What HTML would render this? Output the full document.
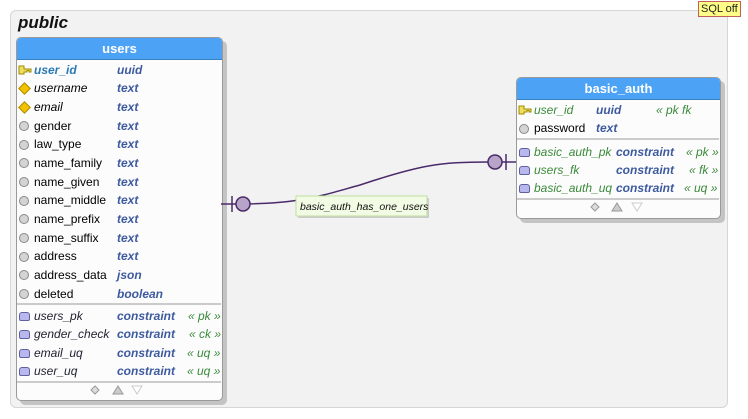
<!DOCTYPE html>
<html><head><meta charset="utf-8"><style>
body{margin:0;width:748px;height:419px;background:#fff;font-family:"Liberation Sans","DejaVu Sans",sans-serif;position:relative;overflow:hidden}
.pub{position:absolute;left:10px;top:10px;width:716px;height:396px;background:#f2f2f2;border:1px solid #d6d6d6;border-radius:6px}
.ptitle{position:absolute;left:18px;top:13px;font-size:17px;font-weight:bold;font-style:italic;color:#111}
.sql{position:absolute;left:698px;top:1px;background:#ffff88;border:1px solid #c0605a;font-size:11px;padding:1px 2px;color:#222}
.tbl{position:absolute;background:#fcfcfc;border:1px solid #9a9a9a;border-radius:5px;box-shadow:4px 4px 0 #c4c4c4}
.hdr{background:#4ca3f6;color:#fff;font-weight:bold;font-size:13px;text-align:center;height:21px;line-height:21px;border-radius:4px 4px 0 0;border-bottom:1px solid #3a80c0}
.r{position:absolute;font-size:12px;white-space:nowrap;line-height:16px}
.i{font-style:italic}.t{font-style:italic;font-weight:bold;color:#3d5a9e}.g{font-style:italic;color:#3a8a3a}.b{color:#2a7ab5}
.ic{position:absolute;width:9px;height:9px}
.circ{border-radius:50%;background:#d4d4d4;border:1px solid #888;width:8px;height:8px}
.dia{background:#f2c200;transform:rotate(45deg);width:7px;height:7px;border:1px solid #b08a00}
.con{width:9px;height:7px;background:#b8b8ee;border:1px solid #6060a0;border-radius:3px 3px 2px 2px}
</style></head><body>
<div class="pub"></div>
<div class="ptitle">public</div>
<div class="sql">SQL off</div>

<div class="tbl" style="left:16px;top:37px;width:205px;height:362px">
<div class="hdr">users</div>
</div>
<div class="tbl" style="left:516px;top:77px;width:203px;height:140px">
<div class="hdr">basic_auth</div>
</div>

<svg width="748" height="419" style="position:absolute;left:0;top:0">
<g fill="none" stroke="#9a9a9a"><line x1="17" y1="304" x2="221" y2="304"/><line x1="17" y1="382" x2="221" y2="382"/>
<line x1="517" y1="139" x2="719" y2="139"/><line x1="517" y1="199" x2="719" y2="199"/></g>
<g>
<polygon points="95,386 99,390 95,394 91,390" fill="#ddd" stroke="#999"/><polygon points="118,386 123,394 113,394" fill="#ccc" stroke="#999"/><polygon points="132,386 142,386 137,394" fill="#fff" stroke="#ccc"/>
<polygon points="595,203 599,207 595,211 591,207" fill="#ddd" stroke="#999"/><polygon points="617,203 622,211 612,211" fill="#ccc" stroke="#999"/><polygon points="632,203 642,203 637,211" fill="#fff" stroke="#ccc"/>
</g>
<path d="M221,204 L236,204 C300,204 320,196 360,185 C420,165 440,162 488,162 L516,162" fill="none" stroke="#4a2a6a" stroke-width="1.5"/>
<line x1="232" y1="196" x2="232" y2="212" stroke="#4a2a6a" stroke-width="1.5"/>
<circle cx="243" cy="204" r="7" fill="#b8a4c8" stroke="#4a2a6a" stroke-width="1.5"/>
<line x1="506" y1="154" x2="506" y2="170" stroke="#4a2a6a" stroke-width="1.5"/>
<circle cx="495" cy="162" r="7" fill="#b8a4c8" stroke="#4a2a6a" stroke-width="1.5"/>
<rect x="298" y="198" width="131" height="20" fill="#ccc"/>
<rect x="296" y="196" width="131" height="20" fill="#f2fbe4" stroke="#bfe0a0"/>
<text x="300" y="210" font-family="Liberation Sans,sans-serif" font-size="10.5" font-style="italic" fill="#111">basic_auth_has_one_users</text>
<g fill="#f0e060" stroke="#a08a00"><path d="M19,66 h5 v3 h7 v3 h-2 v-1.5 h-2 v1.5 h-3 v2 h-5 z"/><path d="M519,106 h5 v3 h7 v3 h-2 v-1.5 h-2 v1.5 h-3 v2 h-5 z"/></g>
</svg>

<div class="r i b" style="left:34px;top:62px;font-weight:600">user_id</div><div class="r t" style="left:117px;top:62px">uuid</div>
<div class="ic dia" style="left:20px;top:84px"></div><div class="r i" style="left:34px;top:80px">username</div><div class="r t" style="left:117px;top:80px">text</div>
<div class="ic dia" style="left:20px;top:103px"></div><div class="r i" style="left:34px;top:99px">email</div><div class="r t" style="left:117px;top:99px">text</div>
<div class="ic circ" style="left:19px;top:121px"></div><div class="r" style="left:34px;top:118px">gender</div><div class="r t" style="left:117px;top:118px">text</div>
<div class="ic circ" style="left:19px;top:140px"></div><div class="r" style="left:34px;top:136px">law_type</div><div class="r t" style="left:117px;top:136px">text</div>
<div class="ic circ" style="left:19px;top:158px"></div><div class="r" style="left:34px;top:155px">name_family</div><div class="r t" style="left:117px;top:155px">text</div>
<div class="ic circ" style="left:19px;top:177px"></div><div class="r" style="left:34px;top:174px">name_given</div><div class="r t" style="left:117px;top:174px">text</div>
<div class="ic circ" style="left:19px;top:196px"></div><div class="r" style="left:34px;top:192px">name_middle</div><div class="r t" style="left:117px;top:192px">text</div>
<div class="ic circ" style="left:19px;top:214px"></div><div class="r" style="left:34px;top:211px">name_prefix</div><div class="r t" style="left:117px;top:211px">text</div>
<div class="ic circ" style="left:19px;top:233px"></div><div class="r" style="left:34px;top:230px">name_suffix</div><div class="r t" style="left:117px;top:230px">text</div>
<div class="ic circ" style="left:19px;top:252px"></div><div class="r" style="left:34px;top:248px">address</div><div class="r t" style="left:117px;top:248px">text</div>
<div class="ic circ" style="left:19px;top:270px"></div><div class="r" style="left:34px;top:267px">address_data</div><div class="r t" style="left:117px;top:267px">json</div>
<div class="ic circ" style="left:19px;top:289px"></div><div class="r" style="left:34px;top:286px">deleted</div><div class="r t" style="left:117px;top:286px">boolean</div>
<div class="ic con" style="left:19px;top:312px"></div><div class="r i" style="left:34px;top:308px;color:#223">users_pk</div><div class="r t" style="left:117px;top:308px">constraint</div><div class="r g" style="left:188px;top:308px">« pk »</div>
<div class="ic con" style="left:19px;top:330px"></div><div class="r i" style="left:34px;top:326px;color:#223">gender_check</div><div class="r t" style="left:117px;top:326px">constraint</div><div class="r g" style="left:189px;top:326px">« ck »</div>
<div class="ic con" style="left:19px;top:349px"></div><div class="r i" style="left:34px;top:345px;color:#223">email_uq</div><div class="r t" style="left:117px;top:345px">constraint</div><div class="r g" style="left:187px;top:345px">« uq »</div>
<div class="ic con" style="left:19px;top:367px"></div><div class="r i" style="left:34px;top:363px;color:#223">user_uq</div><div class="r t" style="left:117px;top:363px">constraint</div><div class="r g" style="left:187px;top:363px">« uq »</div>

<div class="r g" style="left:534px;top:102px">user_id</div><div class="r t" style="left:596px;top:102px">uuid</div><div class="r g" style="left:656px;top:102px">« pk fk</div>
<div class="ic circ" style="left:519px;top:124px"></div><div class="r" style="left:534px;top:120px">password</div><div class="r t" style="left:596px;top:120px">text</div>
<div class="ic con" style="left:519px;top:148px"></div><div class="r g" style="left:534px;top:144px">basic_auth_pk</div><div class="r t" style="left:616px;top:144px">constraint</div><div class="r g" style="left:686px;top:144px">« pk »</div>
<div class="ic con" style="left:519px;top:166px"></div><div class="r g" style="left:534px;top:162px">users_fk</div><div class="r t" style="left:616px;top:162px">constraint</div><div class="r g" style="left:689px;top:162px">« fk »</div>
<div class="ic con" style="left:519px;top:184px"></div><div class="r g" style="left:534px;top:180px">basic_auth_uq</div><div class="r t" style="left:616px;top:180px">constraint</div><div class="r g" style="left:684px;top:180px">« uq »</div>
</body></html>
